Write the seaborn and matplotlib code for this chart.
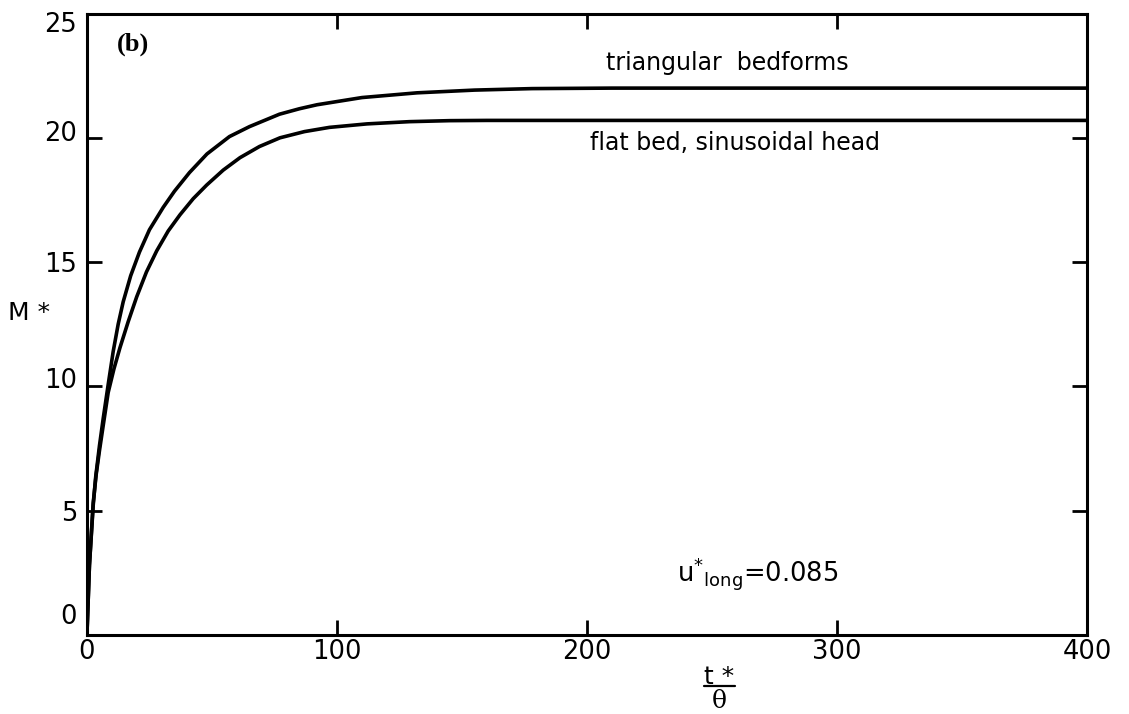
import matplotlib
matplotlib.use("Agg")
import matplotlib.pyplot as plt
import matplotlib.transforms as mtransforms
from matplotlib.lines import Line2D
import seaborn as sns
import pandas as pd

# ---- data ----
t_tri = [0, 1, 2.5, 3.5, 5, 6.5, 8.5, 10.5, 12.5, 14.5, 17.5, 21, 25, 30.5, 35, 41, 48, 57,
         65, 77, 85, 92, 110, 132, 155, 178, 210, 250, 400]
m_tri = [0, 2.8, 5.2, 6.35, 7.6, 8.7, 10.07, 11.4, 12.5, 13.4, 14.45, 15.4, 16.3, 17.2, 17.85,
         18.6, 19.35, 20.05, 20.45, 20.95, 21.17, 21.33, 21.62, 21.81, 21.92, 21.98, 22.0, 22.0, 22.0]

t_flat = [0, 1, 2.5, 3.7, 5, 6.7, 8.5, 10.8, 13.2, 16.5, 19.9, 23.8, 27.9, 32.5, 37.2, 42.5,
          47.9, 54.5, 61.2, 69, 77.2, 87, 97, 112, 129, 145, 160, 400]
m_flat = [0, 2.8, 5.3, 6.45, 7.4, 8.55, 9.75, 10.7, 11.55, 12.6, 13.6, 14.6, 15.45, 16.25, 16.9,
          17.55, 18.1, 18.7, 19.2, 19.65, 20.0, 20.25, 20.42, 20.56, 20.65, 20.69, 20.7, 20.7]

x_ticks = [0, 100, 200, 300, 400]
y_ticks = [0, 5, 10, 15, 20, 25]
y_label_shift_px = [21, 0, 8, 0, 7, -8]   # small vertical offsets seen in the scan

label_tri = "triangular  bedforms"
label_flat = "flat bed, sinusoidal head"
panel = "(b)"
param = r"u$^{*}{}_{\mathregular{long}}$=0.085"

sns.set_theme(style="white")
plt.rcParams["font.family"] = ["DejaVu Sans"]
plt.rcParams["text.color"] = "black"
plt.rcParams["axes.labelcolor"] = "black"

df_tri = pd.DataFrame({"t": t_tri, "M": m_tri})
df_flat = pd.DataFrame({"t": t_flat, "M": m_flat})

fig = plt.figure(figsize=(11.29, 7.14), dpi=100)
ax = fig.add_axes([0.077, 0.111, 0.886, 0.870])

sns.lineplot(data=df_tri, x="t", y="M", ax=ax, color="black", lw=2.6, sort=False, estimator=None)
sns.lineplot(data=df_flat, x="t", y="M", ax=ax, color="black", lw=2.6, sort=False, estimator=None)

ax.set_xlim(0, 400)
ax.set_ylim(0, 25)
ax.set_xticks(x_ticks)
ax.set_yticks(y_ticks)
ax.set_xticklabels([str(v) for v in x_ticks], fontsize=18.5)
ax.set_yticklabels([str(v) for v in y_ticks], fontsize=18.5)
ax.tick_params(axis="both", direction="in", length=11, width=2, color="black",
               top=True, right=True, bottom=True, left=True, labelcolor="black")
ax.tick_params(axis="x", pad=3)
ax.tick_params(axis="y", pad=7)
for spine in ax.spines.values():
    spine.set_visible(True)
    spine.set_color("black")
    spine.set_linewidth(2.2)

for lab, dy in zip(ax.get_yticklabels(), y_label_shift_px):
    lab.set_transform(lab.get_transform() + mtransforms.Affine2D().translate(0, dy))

ax.set_xlabel("")
ax.set_ylabel("")

# y label
fig.text(29 / 1129, 1 - 313 / 714, "M *", fontsize=18, ha="center", va="center")

# x label as a stacked fraction t*/theta
fig.text(719 / 1129, 1 - 677 / 714, "t *", fontsize=18, ha="center", va="center")
fig.add_artist(Line2D([704 / 1129, 735 / 1129], [1 - 686 / 714, 1 - 686 / 714],
                      transform=fig.transFigure, color="black", lw=1.6))
fig.text(719 / 1129, 1 - 702 / 714, "θ", fontsize=18, ha="center", va="center",
         family=["DejaVu Serif"])

ax.text(0.03, 0.95, panel, transform=ax.transAxes, fontsize=19, fontweight="bold",
        family=["Liberation Serif"], ha="left", va="center")
ax.text(256, 23.0, label_tri, fontsize=17, ha="center", va="center")
ax.text(259, 19.8, label_flat, fontsize=17, ha="center", va="center")
ax.text(236, 2.45, param, fontsize=18.5, ha="left", va="center")

fig.savefig("out.png", dpi=100)
